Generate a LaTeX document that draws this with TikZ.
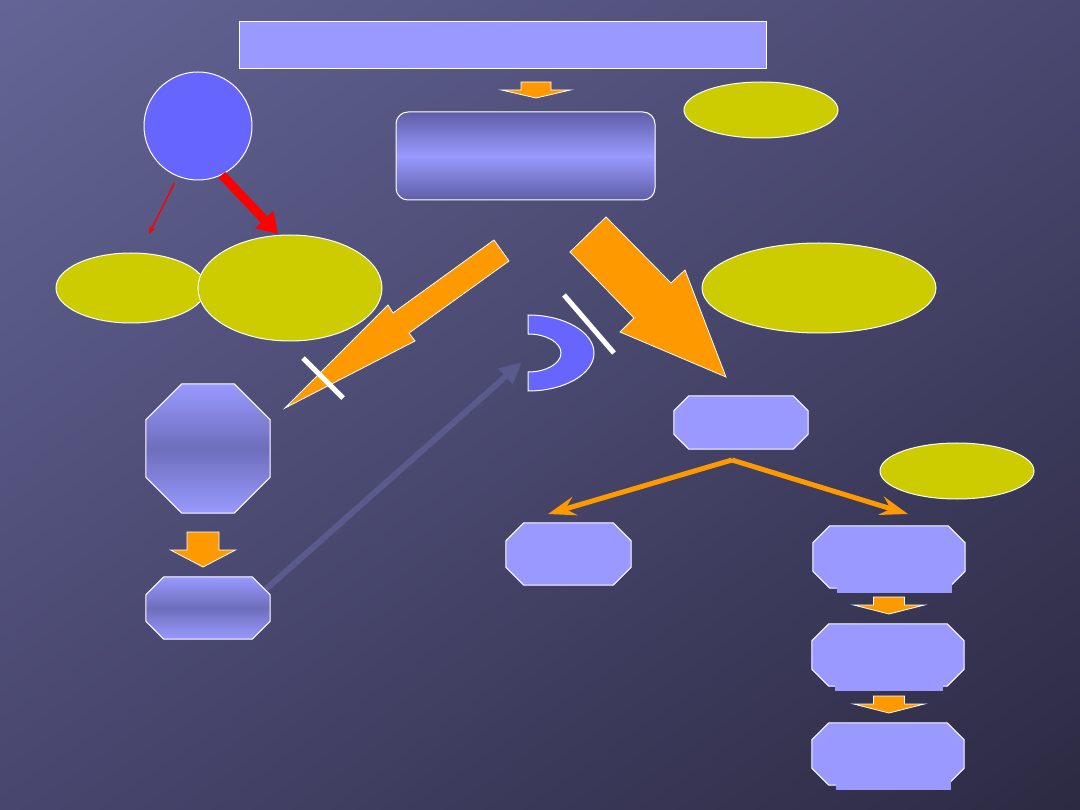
\documentclass[tikz,border=0pt]{standalone}
\usepackage{tikz}
\usetikzlibrary{positioning, arrows.meta, calc, shapes.geometric, shadings}
\definecolor{lav}{RGB}{153,153,255}
\definecolor{lavdk}{RGB}{94,94,166}
\definecolor{lavmd}{RGB}{110,110,188}
\definecolor{blu}{RGB}{102,102,255}
\definecolor{ylw}{RGB}{204,204,0}
\definecolor{org}{RGB}{255,153,0}
\definecolor{bgA}{RGB}{100,101,150}
\definecolor{bgB}{RGB}{74,72,112}
\definecolor{bgC}{RGB}{72,70,110}
\definecolor{bgD}{RGB}{44,42,66}
\definecolor{ghost}{RGB}{90,90,140}
% chamfered outline round a named node: node, cut, style
\newcommand{\chamf}[3]{%
  \draw[#3] ($(#1.north west)+(#2,0)$) -- ($(#1.north east)+(-#2,0)$)
    -- ($(#1.north east)+(0,#2)$) -- ($(#1.south east)+(0,-#2)$)
    -- ($(#1.south east)+(-#2,0)$) -- ($(#1.south west)+(#2,0)$)
    -- ($(#1.south west)+(0,-#2)$) -- ($(#1.north west)+(0,#2)$) -- cycle;}

\begin{document}
\begin{tikzpicture}[x=1pt, y=-1pt,
  box/.style={draw=white, line width=1pt, fill=lav, inner sep=0pt},
  slot/.style={inner sep=0pt},
  octf/.style={draw=white, line width=1pt, fill=lav},
  octg/.style={draw=white, line width=1pt, top color=lav, bottom color=lav, middle color=lavmd},
  yel/.style={ellipse, draw=white, line width=1pt, fill=ylw, inner sep=0pt},
  tab/.style={fill=lav, inner sep=0pt, minimum height=17pt, minimum width=115pt},
  blk/.style={draw=white, line width=0.8pt, fill=org, line join=miter},
  bar/.style={white, line width=5pt},
  split/.style={org, line width=5pt, -{Stealth[length=28pt,width=19pt,inset=10pt]}},
  pics/blkdn/.style n args={4}{code={
    \draw[blk] (-#1,0) -- (#1,0) -- (#1,#3-#4) -- (#2,#3-#4) -- (0,#3)
      -- (-#2,#3-#4) -- (-#1,#3-#4) -- cycle;}}]
% backdrop
\shade[upper left=bgA, upper right=bgB, lower left=bgC, lower right=bgD] (0,0) rectangle (1080,810);
\useasboundingbox (0,0) rectangle (1080,810);
\coordinate (gs) at (265,590);
\coordinate (ge) at (522,362);
\draw[ghost, line width=6pt, -{Triangle[length=22pt,width=20pt]}] (gs) -- (ge);

% top row
\node[box, minimum width=527pt, minimum height=47pt] (title) at (502.5,45.5) {};
\node[box, rounded corners=12pt, minimum width=259pt, minimum height=88pt,
  top color=lavdk, bottom color=lavdk, middle color=lav] (mid) at (525.5,156) {};
\pic at (536,82) {blkdn={15}{34.5}{16}{8}};
\node[yel, minimum width=154pt, minimum height=56pt] (ytop) at (761,110) {};

% left branch
\node[circle, draw=white, line width=1pt, fill=blu, minimum size=108pt, inner sep=0pt] (circ) at (198,126) {};
\node[yel, minimum width=150pt, minimum height=70pt] (yl) at (131,288) {};
\node[yel, minimum width=184pt, minimum height=106pt] (ybig) at (290,288) {};
\coordinate (rt1) at (149,234);
\coordinate (rt2) at (278,234);
\draw[red, line width=1.4pt, shorten <=7pt, -{Stealth[length=8pt,width=6pt]}] (circ.248) -- (rt1);
\draw[red, line width=9pt, -{Triangle[length=20pt,width=24pt]}] (circ.296) -- (rt2);

\node[slot, minimum width=124pt, minimum height=129pt] (ocL) at (208,448.5) {};
\chamf{ocL}{36}{octg}
\pic at (203,532) {blkdn={16}{32.5}{35}{17}};
\node[slot, minimum width=124pt, minimum height=62pt] (ocLb) at (208,608) {};
\chamf{ocLb}{18}{octg}

% bolts
\draw[blk] (494,240) -- (393,313) -- (388,305) -- (285,408) -- (415,341) -- (409,333) -- (509,261) -- cycle;
\draw[bar] (303,358) -- (343,398);
\draw[blk] (606,217) -- (671,283) -- (685,270) -- (726,377) -- (620,332) -- (634,318) -- (570,252) -- cycle;
\draw[bar] (564,295) -- (614,353);
\draw[draw=white, line width=1pt, fill=blu] (528,315) arc[start angle=-90, end angle=90, x radius=66, y radius=38]
  -- (528,372) arc[start angle=90, end angle=-90, x radius=33, y radius=19] -- cycle;

% right branch
\node[yel, minimum width=234pt, minimum height=90pt] (yr) at (819,288) {};
\node[slot, minimum width=134pt, minimum height=53pt] (ocM) at (741,422.5) {};
\chamf{ocM}{15}{octf}
\node[yel, minimum width=154pt, minimum height=56pt] (ylow) at (957,471) {};
\node[slot, minimum width=125pt, minimum height=62pt] (ocA) at (568.5,554) {};
\chamf{ocA}{18}{octf}
\node[slot, minimum width=152pt, minimum height=62pt] (ocB) at (889,557) {};
\chamf{ocB}{17}{octf}
\node[tab, anchor=south] (tB) at ($(ocB.south)+(5,5)$) {};
\pic at (889,597) {blkdn={15.5}{35.5}{17}{9}};
\node[slot, minimum width=152pt, minimum height=62pt] (ocC) at (888,655) {};
\chamf{ocC}{17}{octf}
\node[tab, anchor=south, minimum width=108pt] (tC) at ($(ocC.south)+(1,5)$) {};
\pic at (889,696) {blkdn={15.5}{35.5}{17}{9}};
\node[slot, minimum width=152pt, minimum height=62pt] (ocD) at (888,754) {};
\chamf{ocD}{17}{octf}
\node[tab, anchor=south] (tD) at ($(ocD.south)+(5,5)$) {};

\coordinate (sp) at (732,460);
\coordinate (spl) at (548,514);
\coordinate (spr) at (908,514);
\draw[split] (sp) -- (spl);
\draw[split] (sp) -- (spr);
\end{tikzpicture}
\end{document}
